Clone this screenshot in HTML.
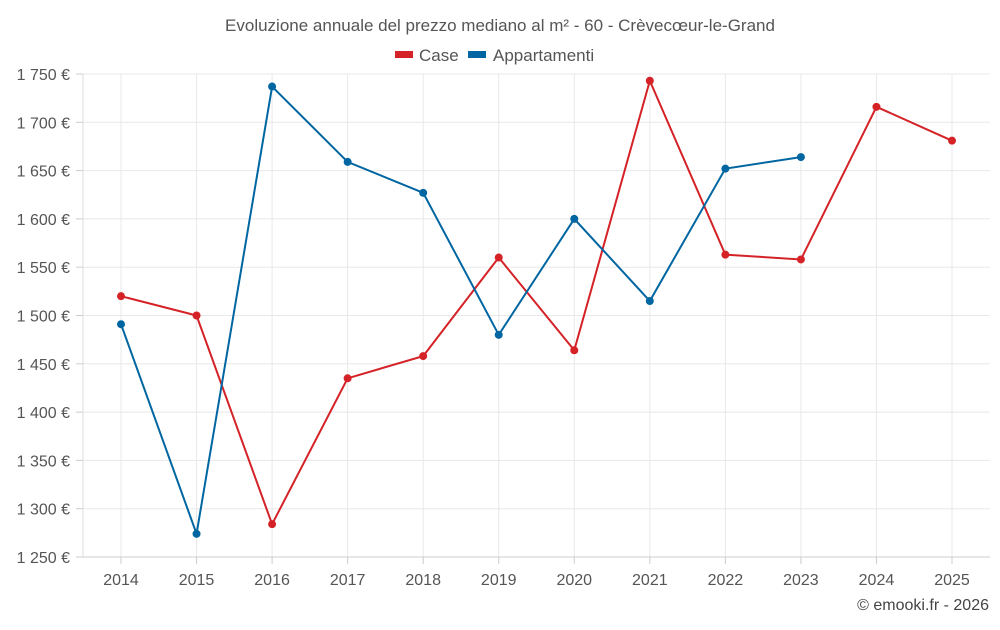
<!DOCTYPE html>
<html><head><meta charset="utf-8"><style>
body{margin:0;background:#fff;font-family:"Liberation Sans",sans-serif;}
svg text{font-family:"Liberation Sans",sans-serif;}
</style></head><body>
<svg id="c" width="1000" height="625" xmlns="http://www.w3.org/2000/svg">
<text x="500" y="31" text-anchor="middle" font-size="17" fill="#555">Evoluzione annuale del prezzo mediano al m² - 60 - Crèvecœur-le-Grand</text>
<g><rect x="395" y="51" width="18" height="7" fill="#d42227"/><text x="419" y="61" font-size="17" fill="#555">Case</text></g>
<g><rect x="468" y="51" width="18" height="7" fill="#0066a1"/><text x="493" y="61" font-size="17" fill="#555">Appartamenti</text></g>
<g id="grid"></g><g id="axes"></g><g id="series"></g>
<text x="989" y="610" text-anchor="end" font-size="16" fill="#444">© emooki.fr - 2026</text>
</svg>
<script>
const years=[2014,2015,2016,2017,2018,2019,2020,2021,2022,2023,2024,2025];
const caseVals=[1520,1500,1284,1435,1458,1560,1464,1743,1563,1558,1716,1681];
const appVals=[1491,1274,1737,1659,1627,1480,1600,1515,1652,1664,null,null];
const yTicks=[1250,1300,1350,1400,1450,1500,1550,1600,1650,1700,1750];
const NS="http://www.w3.org/2000/svg";
const L=83,R=990,T=74,B=557;
const x=i=>121+i*(952-121)/(years.length-1);
const y=v=>B-(v-1250)*(B-T)/500;
function mk(tag,attrs,parent){const e=document.createElementNS(NS,tag);for(const k in attrs)e.setAttribute(k,attrs[k]);parent.appendChild(e);return e;}
const grid=document.getElementById('grid'),axes=document.getElementById('axes'),ser=document.getElementById('series');
yTicks.forEach(t=>{
 const l=mk('line',{x1:L,x2:R,y1:y(t),y2:y(t),stroke:'#e8e8e8'},grid);
 
 
 mk('line',{x1:76,x2:L,y1:y(t),y2:y(t),stroke:'#ccc'},axes);
 const tx=mk('text',{x:70,y:y(t)+6,'text-anchor':'end','font-size':'16',fill:'#555'},axes);
 tx.textContent=t.toLocaleString('fr-FR').replace(/\s/g,' ')+' €';
 
 
});
years.forEach((yr,i)=>{
 const l=mk('line',{x1:x(i),x2:x(i),y1:T,y2:B,stroke:'#e8e8e8'},grid);
 
 
 mk('line',{x1:x(i),x2:x(i),y1:B,y2:B+7,stroke:'#ccc'},axes);
 const tx=mk('text',{x:x(i),y:585,'text-anchor':'middle','font-size':'16',fill:'#555'},axes);
 tx.textContent=yr;
 
 
});
mk('line',{x1:L,x2:L,y1:T,y2:B,stroke:'#ddd'},axes);
mk('line',{x1:L,x2:R,y1:B,y2:B,stroke:'#ccc'},axes);
function series(vals,color,name){
 let d='';vals.forEach((v,i)=>{if(v==null)return;d+=(d?'L':'M')+x(i)+' '+y(v);});
 const p=mk('path',{d:d,fill:'none',stroke:color,'stroke-width':2},ser);
 
 
 vals.forEach((v,i)=>{if(v==null)return;
  const c=mk('circle',{cx:x(i),cy:y(v),r:4,fill:color},ser);
  
  
 });
}
series(caseVals,'#d42227','case');
series(appVals,'#0066a1','appartamenti');
</script>
</body></html>
